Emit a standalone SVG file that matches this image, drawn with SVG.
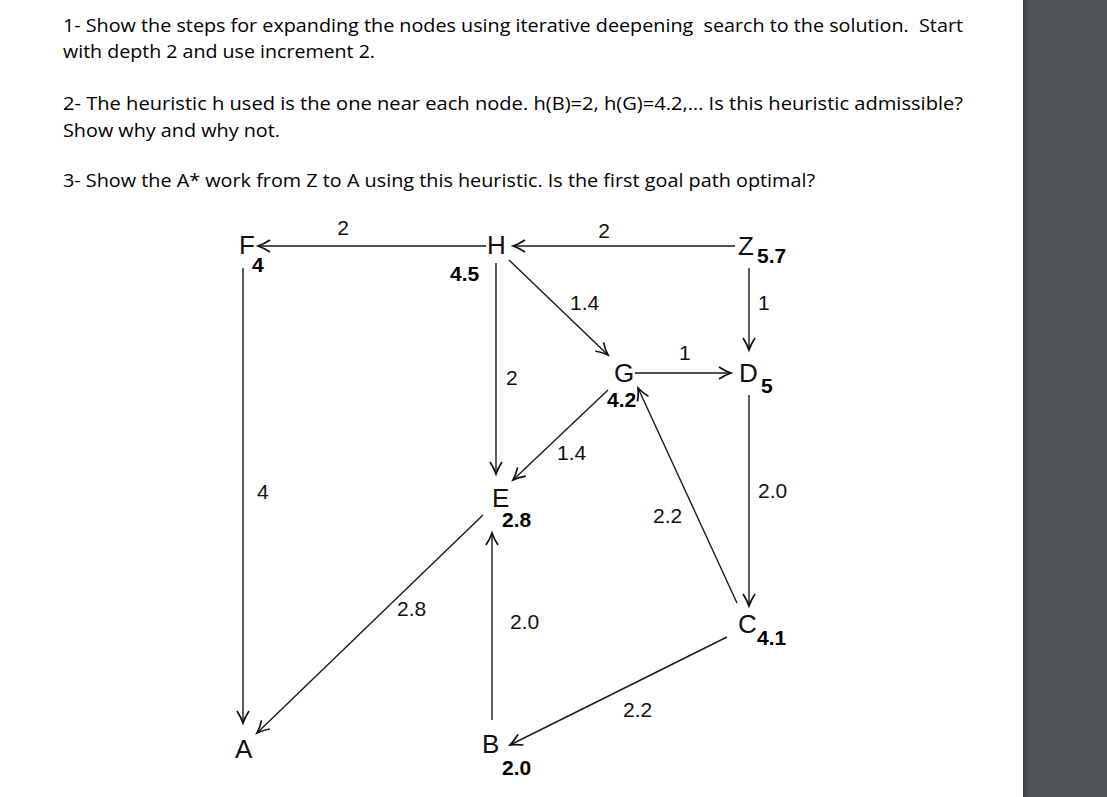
<svg xmlns="http://www.w3.org/2000/svg" width="1107" height="797" viewBox="0 0 1107 797">
<defs>
<linearGradient id="shadow" x1="0" y1="0" x2="1" y2="0">
<stop offset="0" stop-color="#3e4143"/>
<stop offset="1" stop-color="#525659"/>
</linearGradient>
<marker id="arr" markerUnits="userSpaceOnUse" markerWidth="16" markerHeight="16" viewBox="-14 -8 16 16" refX="0" refY="0" orient="auto" overflow="visible">
<path d="M-12,-6 Q-6,-2 0,0 Q-6,2 -12,6" fill="none" stroke="#111" stroke-width="1.7"/>
</marker>
<style>
.hdr{font-family:"Open Sans","Liberation Sans",sans-serif;font-size:19px;fill:#000;white-space:pre}
.node{font-family:"Liberation Sans",Arial,sans-serif;font-size:26px;fill:#111}
.h{font-family:"Liberation Sans",Arial,sans-serif;font-size:21px;font-weight:bold;fill:#000}
.w{font-family:"Liberation Sans",Arial,sans-serif;font-size:21px;fill:#111}
.e{stroke:#1a1a1a;stroke-width:1.4;fill:none}
.ea{stroke:#1a1a1a;stroke-width:1.4;fill:none;marker-end:url(#arr)}
</style>
</defs>
<rect x="0" y="0" width="1107" height="797" fill="#ffffff"/>
<rect x="1023" y="0" width="84" height="797" fill="#515558"/>
<rect x="1023" y="0" width="7" height="797" fill="url(#shadow)"/>

<g id="header">
<text class="hdr" x="63" y="32" textLength="900" lengthAdjust="spacingAndGlyphs" xml:space="preserve">1- Show the steps for expanding the nodes using iterative deepening  search to the solution.  Start</text>
<text class="hdr" x="63" y="58" textLength="312" lengthAdjust="spacingAndGlyphs">with depth 2 and use increment 2.</text>
<text class="hdr" x="63" y="110" textLength="900" lengthAdjust="spacingAndGlyphs">2- The heuristic h used is the one near each node. h(B)=2, h(G)=4.2,… Is this heuristic admissible?</text>
<text class="hdr" x="63" y="137" textLength="217" lengthAdjust="spacingAndGlyphs">Show why and why not.</text>
<text class="hdr" x="63" y="187" textLength="752" lengthAdjust="spacingAndGlyphs">3- Show the A* work from Z to A using this heuristic. Is the first goal path optimal?</text>
</g>

<g id="connectors">
<line class="ea" x1="486" y1="246" x2="258" y2="246"/>
<line class="ea" x1="735" y1="246" x2="513" y2="246"/>
<line class="ea" x1="243" y1="268" x2="243" y2="723"/>
<line class="ea" x1="496" y1="263" x2="496" y2="474"/>
<line class="ea" x1="509" y1="260" x2="608" y2="355"/>
<line class="ea" x1="749" y1="268" x2="749" y2="350"/>
<line class="ea" x1="635" y1="373" x2="731" y2="373"/>
<line class="ea" x1="749" y1="395" x2="749" y2="606"/>
<line class="ea" x1="608" y1="390" x2="513" y2="480"/>
<line class="ea" x1="737" y1="603" x2="638" y2="388"/>
<line class="ea" x1="483" y1="515" x2="257" y2="733"/>
<line class="ea" x1="492" y1="720" x2="492" y2="533"/>
<line class="ea" x1="727" y1="637" x2="510" y2="745"/>
<text class="w" x="343" y="235" text-anchor="middle">2</text>
<text class="w" x="604" y="238" text-anchor="middle">2</text>
<text class="w" x="570" y="310">1.4</text>
<text class="w" x="758" y="310">1</text>
<text class="w" x="679" y="360">1</text>
<text class="w" x="506" y="385">2</text>
<text class="w" x="557" y="460">1.4</text>
<text class="w" x="653" y="523">2.2</text>
<text class="w" x="257" y="499">4</text>
<text class="w" x="758" y="498">2.0</text>
<text class="w" x="397" y="616">2.8</text>
<text class="w" x="510" y="629">2.0</text>
<text class="w" x="623" y="717">2.2</text>
</g>

<g id="node-F"><text class="node" x="239" y="254">F</text><text class="h" x="252" y="272">4</text></g>
<g id="node-H"><text class="node" x="487" y="254">H</text><text class="h" x="450" y="281">4.5</text></g>
<g id="node-Z"><text class="node" x="738" y="255">Z</text><text class="h" x="757" y="263">5.7</text></g>
<g id="node-G"><text class="node" x="614" y="382">G</text><text class="h" x="607" y="407">4.2</text></g>
<g id="node-D"><text class="node" x="739" y="382">D</text><text class="h" x="761" y="393">5</text></g>
<g id="node-E"><text class="node" x="492" y="507">E</text><text class="h" x="502" y="527">2.8</text></g>
<g id="node-C"><text class="node" x="738" y="633">C</text><text class="h" x="757" y="645">4.1</text></g>
<g id="node-A"><text class="node" x="235" y="758">A</text></g>
<g id="node-B"><text class="node" x="482" y="753">B</text><text class="h" x="502" y="775">2.0</text></g>
</svg>
